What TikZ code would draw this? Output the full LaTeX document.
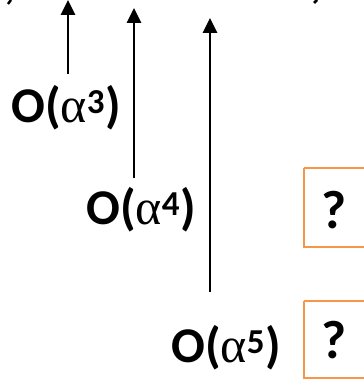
\documentclass[tikz,border=0pt]{standalone}
\usepackage{fontspec}
\setmainfont{Carlito}
\newfontfamily\greekf{Liberation Serif}
\newcommand{\myalpha}{{\greekf\mdseries α}}
\usetikzlibrary{arrows.meta}
\definecolor{boxorange}{RGB}{247,150,70}
\begin{document}
\begin{tikzpicture}[x=1pt,y=-1pt,
  lbl/.style={font=\fontsize{50}{54}\selectfont\bfseries, inner sep=0pt, anchor=center},
  arr/.style={line width=2.8pt, -{Triangle[length=15pt,width=14pt]}},
  qbox/.style={draw=boxorange, line width=2.2pt},
  qmark/.style={font=\fontsize{54}{58}\selectfont\bfseries, inner sep=0pt}]
\useasboundingbox (0,0) rectangle (363,379);
% cropped marks at top
\draw[line width=2.5pt] (8,4) -- (11,0);
\draw[line width=2.5pt] (314,3) -- (317,0);
% labels
\node[lbl] (l3) at (66,108) {O(\myalpha\textsuperscript{3})};
\node[lbl] (l4) at (141,210) {O(\myalpha\textsuperscript{4})};
\node[lbl] (l5) at (226,348) {O(\myalpha\textsuperscript{5})};
% arrows
\coordinate (t3) at (68,0);
\coordinate (b3) at (68,74);
\coordinate (t4) at (134,8);
\coordinate (b4) at (134,178);
\coordinate (t5) at (210,18);
\coordinate (b5) at (210,292);
\draw[arr] (b3) -- (t3);
\draw[arr] (b4) -- (t4);
\draw[arr] (b5) -- (t5);
% boxes
\draw[qbox] (304,168) -- (366,168) (304,168) -- (304,247) -- (366,247);
\draw[qbox] (304,301) -- (366,301) (304,301) -- (304,378) -- (366,378);
\node[qmark] (q1) at (334,210) {?};
\node[qmark] (q2) at (334,340) {?};
\end{tikzpicture}
\end{document}
